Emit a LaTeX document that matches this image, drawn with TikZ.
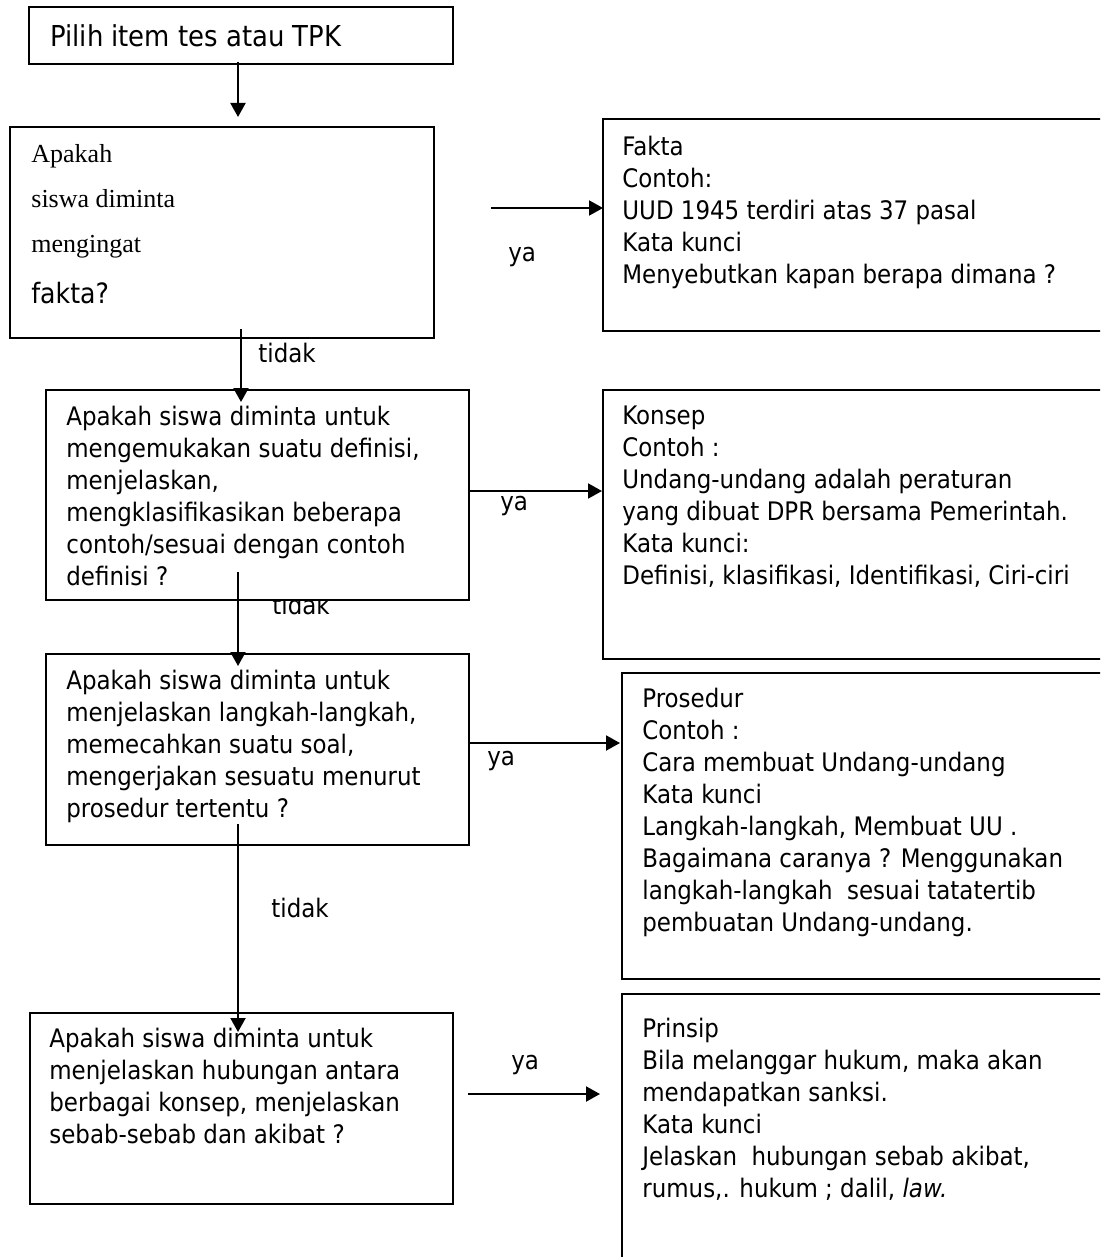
\documentclass[tikz,border=0pt]{standalone}
\usepackage{fontspec}
\setmainfont{DejaVu Sans Condensed}
\newfontfamily\qserif{Liberation Serif}
\usetikzlibrary{arrows.meta,calc}

\begin{document}
\begin{tikzpicture}[x=0.5pt,y=-0.5pt,>={Triangle[length=7pt,width=7.5pt]},
kotak/.style={draw, line width=1pt, fill=white, inner sep=0pt, anchor=north west},
isi/.style={anchor=north west, inner sep=0pt, align=left, font=\fontsize{12.75}{16}\selectfont},
jawab/.style={anchor=base west, inner sep=0pt, font=\fontsize{12.75}{16}\selectfont},
alur/.style={->, line width=1pt}]
\useasboundingbox (0,0) rectangle (1100,1257);
\clip (0,0) rectangle (1100,1257);

% label under q2 drawn first, the box hides its top
\node[jawab] (tidak2) at (272,614) {tidak};

\node[kotak, minimum width=212pt, minimum height=28.5pt] (pilih) at (28,6) {};
\node[kotak, minimum width=212pt, minimum height=105.5pt] (q1) at (9,126) {};
\node[kotak, minimum width=251pt, minimum height=106pt] (fakta) at (602,118) {};
\node[kotak, minimum width=211.5pt, minimum height=105pt] (q2) at (45,389) {};
\node[kotak, minimum width=251pt, minimum height=134.5pt] (konsep) at (602,389) {};
\node[kotak, minimum width=211.5pt, minimum height=95.5pt] (q3) at (45,653) {};
\node[kotak, minimum width=241.5pt, minimum height=153pt] (prosedur) at (621,672) {};
\node[kotak, minimum width=211.5pt, minimum height=95.5pt] (q4) at (29,1012) {};
\node[kotak, minimum width=241.5pt, minimum height=140pt] (prinsip) at (621,993) {};

\node[isi, font=\fontsize{14.4}{17}\selectfont] (tpilih) at (50,24) {Pilih item tes atau TPK};
\node[isi, font=\qserif\fontsize{13}{22.5}\selectfont] (tq1) at (31,144) {Apakah\\siswa diminta\\mengingat\\[3pt]{\rmfamily\fontsize{14}{17}\selectfont fakta?}};
\node[isi] (tfakta) at (622,135.5) {Fakta\\Contoh:\\UUD 1945 terdiri atas 37 pasal\\Kata kunci\\Menyebutkan kapan berapa dimana ?};
\node[isi] (tq2) at (66,405.5) {Apakah siswa diminta untuk\\mengemukakan suatu definisi,\\menjelaskan,\\mengklasifikasikan beberapa\\contoh/sesuai dengan contoh\\definisi ?};
\node[isi] (tkonsep) at (622,405.5) {Konsep\\Contoh :\\Undang-undang adalah peraturan\\yang dibuat DPR bersama Pemerintah.\\Kata kunci:\\Definisi, klasifikasi, Identifikasi, Ciri-ciri};
\node[isi] (tq3) at (66,669.5) {Apakah siswa diminta untuk\\menjelaskan langkah-langkah,\\memecahkan suatu soal,\\mengerjakan sesuatu menurut\\prosedur tertentu ?};
\node[isi] (tprosedur) at (642,687.5) {Prosedur\\Contoh :\\Cara membuat Undang-undang\\Kata kunci\\Langkah-langkah, Membuat UU .\\Bagaimana caranya ? Menggunakan\\langkah-langkah\ \ sesuai tatatertib\\pembuatan Undang-undang.};
\node[isi] (tq4) at (49,1027.5) {Apakah siswa diminta untuk\\menjelaskan hubungan antara\\berbagai konsep, menjelaskan\\sebab-sebab dan akibat ?};
\node[isi] (tprinsip) at (642,1017.5) {Prinsip\\Bila melanggar hukum, maka akan\\mendapatkan sanksi.\\Kata kunci\\Jelaskan\ \ hubungan sebab akibat,\\rumus,. hukum ; dalil, \textit{law.}};

\node[jawab] (tidak1) at (258,362) {tidak};
\node[jawab] (tidak3) at (271,917) {tidak};
\node[jawab] (ya1) at (508,262) {ya};
\node[jawab] (ya2) at (500,510) {ya};
\node[jawab] (ya3) at (487,765) {ya};
\node[jawab] (ya4) at (511,1069) {ya};

\draw[alur] ($(pilih.south)+(-3,-3)$) -- ($(q1.north)+(16,-9)$);
\draw[alur] ($(q1.east)+(56,-24.5)$) -- ($(fakta.west)+(1,-17)$);
\draw[alur] ($(q1.south)+(19,-10)$) -- ($(q2.north)+(-16.5,13)$);
\draw[alur] ($(q2.east)+(0,-4)$) -- ($(konsep.west)+(0,-33.5)$);
\draw[alur] ($(q2.south)+(-19.5,-29)$) -- ($(q3.north)+(-19.5,13)$);
\draw[alur] ($(q3.east)+(0,-6.5)$) -- ($(prosedur.west)+(-1,-83)$);
\draw[alur] ($(q3.south)+(-19.5,-22)$) -- ($(q4.north)+(-3.5,20)$);
\draw[alur] ($(q4.east)+(14,-14.5)$) -- ($(prinsip.west)+(-21,-40)$);
\end{tikzpicture}
\end{document}
